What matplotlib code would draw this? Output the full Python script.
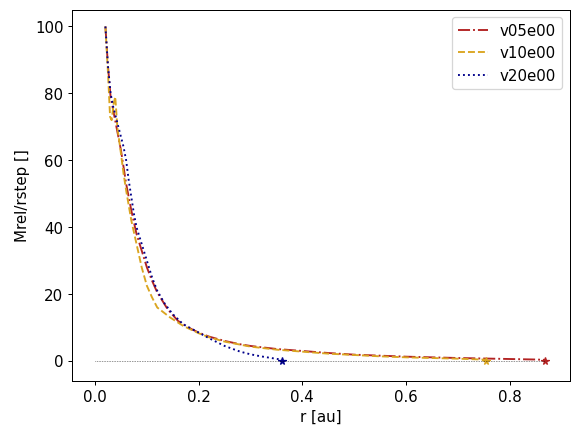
import matplotlib
matplotlib.use("Agg")
import matplotlib.pyplot as plt

# radius [au] and Mrel/rstep for each run
r_v05 = [0.02, 0.025, 0.03, 0.035, 0.04, 0.045, 0.05, 0.055, 0.06, 0.07, 0.08, 0.09, 0.10, 0.11, 0.12,
         0.14, 0.16, 0.18, 0.20, 0.22, 0.25, 0.28, 0.30, 0.35, 0.40, 0.45, 0.50, 0.55, 0.60, 0.65,
         0.70, 0.75, 0.80, 0.85, 0.868]
m_v05 = [100, 88, 79, 75, 71, 67, 63, 58, 53, 45, 38, 33, 28, 24, 20.5,
         15.5, 12, 10, 8.5, 7.3, 6.0, 5.0, 4.5, 3.6, 3.0, 2.4, 1.9, 1.6, 1.3, 1.1,
         0.9, 0.75, 0.6, 0.45, 0.35]

r_v10 = [0.02, 0.025, 0.029, 0.032, 0.036, 0.039, 0.043, 0.05, 0.055, 0.06, 0.07, 0.08, 0.09, 0.10, 0.11,
         0.12, 0.145, 0.17, 0.20, 0.22, 0.25, 0.28, 0.30, 0.35, 0.40, 0.45, 0.50, 0.55, 0.60, 0.65,
         0.70, 0.755]
m_v10 = [100, 86, 73, 72, 77, 79, 70, 62, 56, 51, 42, 35, 28, 22.5, 19,
         16, 13, 10.5, 8.3, 7.1, 5.8, 4.9, 4.3, 3.4, 2.8, 2.2, 1.8, 1.4, 1.1, 0.9,
         0.7, 0.4]

r_v20 = [0.02, 0.025, 0.03, 0.035, 0.04, 0.045, 0.05, 0.055, 0.06, 0.065, 0.07, 0.075, 0.08, 0.09, 0.10,
         0.11, 0.12, 0.135, 0.15, 0.17, 0.20, 0.22, 0.25, 0.28, 0.30, 0.32, 0.34, 0.36]
m_v20 = [100, 88, 80, 76, 73, 70, 67, 64, 60, 54, 49, 44, 40, 35, 30,
         25, 21, 17, 14, 11, 8.5, 6.8, 4.5, 2.8, 2.0, 1.4, 0.9, 0.4]

labels = ["v05e00", "v10e00", "v20e00"]
colors = ["#b22222", "#daa520", "#00008b"]
styles = ["-.", "--", ":"]

plt.rcParams["font.size"] = 12
fig, ax = plt.subplots(figsize=(6.4, 4.8), dpi=90.3)
fig.subplots_adjust(left=0.125, right=0.986, top=0.977, bottom=0.12)

for r, m, lab, c, ls in zip([r_v05, r_v10, r_v20], [m_v05, m_v10, m_v20], labels, colors, styles):
    ax.plot(r, m, ls=ls, color=c, lw=1.5, label=lab)
    ax.plot(r[-1], 0, "*", color=c, ms=6)

ax.plot([0, max(r_v05)], [0, 0], ":", color="k", lw=0.5)
ax.set_xlim(-0.044, 0.916)
ax.set_ylim(-5.97, 105.07)
ax.set_xlabel("r [au]")
ax.set_ylabel("Mrel/rstep []")
ax.legend(loc="upper right")
fig.savefig("out.png", dpi=90.3)
